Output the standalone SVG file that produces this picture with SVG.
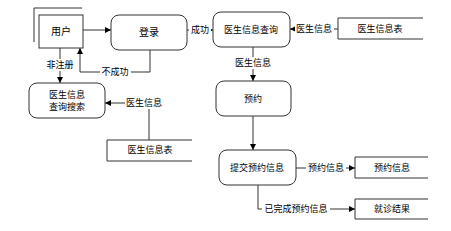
<svg xmlns="http://www.w3.org/2000/svg" width="451" height="231" viewBox="0 0 451 231">
<style>
text{font-family:"Liberation Sans","Noto Sans CJK SC",sans-serif;font-size:9px;fill:#000;text-anchor:middle;dominant-baseline:central}
.n{fill:#fff;stroke:#333;stroke-width:1}
.big{font-size:10px}
.e{fill:none;stroke:#333;stroke-width:1}
.lb{fill:#fff;stroke:none}
</style>
<defs>
<marker id="a" viewBox="0 0 6 6" refX="6" refY="3" markerWidth="6" markerHeight="6" orient="auto" markerUnits="userSpaceOnUse">
<path d="M0,0L6,3L0,6z" fill="#000"/>
</marker>
</defs>
<rect width="451" height="231" fill="#fff"/>
<g id="edges">
<path class="e" d="M83,30H111" marker-end="url(#a)"/>
<path class="e" d="M187,30H213" marker-end="url(#a)"/>
<path class="e" d="M338,29H290" marker-end="url(#a)"/>
<path class="e" d="M253,47V81" marker-end="url(#a)"/>
<path class="e" d="M253,116V150" marker-end="url(#a)"/>
<path class="e" d="M296,168H355" marker-end="url(#a)"/>
<path class="e" d="M258,185V209H355" marker-end="url(#a)"/>
<path class="e" d="M60,48V83" marker-end="url(#a)"/>
<path class="e" d="M150,50V72H80V48" marker-end="url(#a)"/>
<path class="e" d="M149,140V103H105" marker-end="url(#a)"/>
<rect class="lb" x="189" y="24" width="22" height="12"/>
<text x="200" y="30">成功</text>
<rect class="lb" x="295" y="23" width="39" height="12"/>
<text x="314" y="29">医生信息</text>
<rect class="lb" x="234" y="57" width="39" height="12"/>
<text x="253" y="63">医生信息</text>
<rect class="lb" x="306" y="162" width="40" height="12"/>
<text x="326" y="168">预约信息</text>
<rect class="lb" x="262" y="203" width="68" height="12"/>
<text x="296" y="209">已完成预约信息</text>
<rect class="lb" x="45" y="59" width="30" height="12"/>
<text x="60" y="65">非注册</text>
<rect class="lb" x="100" y="66" width="31" height="12"/>
<text x="115" y="72">不成功</text>
<rect class="lb" x="125" y="97" width="39" height="12"/>
<text x="144" y="103">医生信息</text>
</g>
<g id="user">
<path class="e" d="M34,42V8H82"/>
<rect class="n" x="39" y="15" width="44" height="33"/>
<text class="big" x="61" y="31">用户</text>
</g>
<g id="login">
<rect class="n" x="111" y="15" width="76" height="35" rx="8"/>
<text class="big" x="149" y="32">登录</text>
</g>
<g id="query">
<rect class="n" x="213" y="12" width="77" height="35" rx="8"/>
<text x="251" y="30">医生信息查询</text>
</g>
<g id="table1">
<path class="e" d="M423,18H338V39H423"/>
<text x="380" y="29">医生信息表</text>
</g>
<g id="reserve">
<rect class="n" x="216" y="81" width="75" height="35" rx="8"/>
<text x="253" y="99">预约</text>
</g>
<g id="submit">
<rect class="n" x="219" y="150" width="77" height="35" rx="8"/>
<text x="257" y="168">提交预约信息</text>
</g>
<g id="resinfo">
<path class="e" d="M428,157H355V178H428"/>
<text x="392" y="168">预约信息</text>
</g>
<g id="result">
<path class="e" d="M428,199H355V219H428"/>
<text x="392" y="209">就诊结果</text>
</g>
<g id="search">
<rect class="n" x="29" y="83" width="76" height="35" rx="8"/>
<text x="67" y="95">医生信息</text>
<text x="67" y="107">查询搜索</text>
</g>
<g id="table2">
<path class="e" d="M192,140H107V161H192"/>
<text x="150" y="150">医生信息表</text>
</g>
</svg>
